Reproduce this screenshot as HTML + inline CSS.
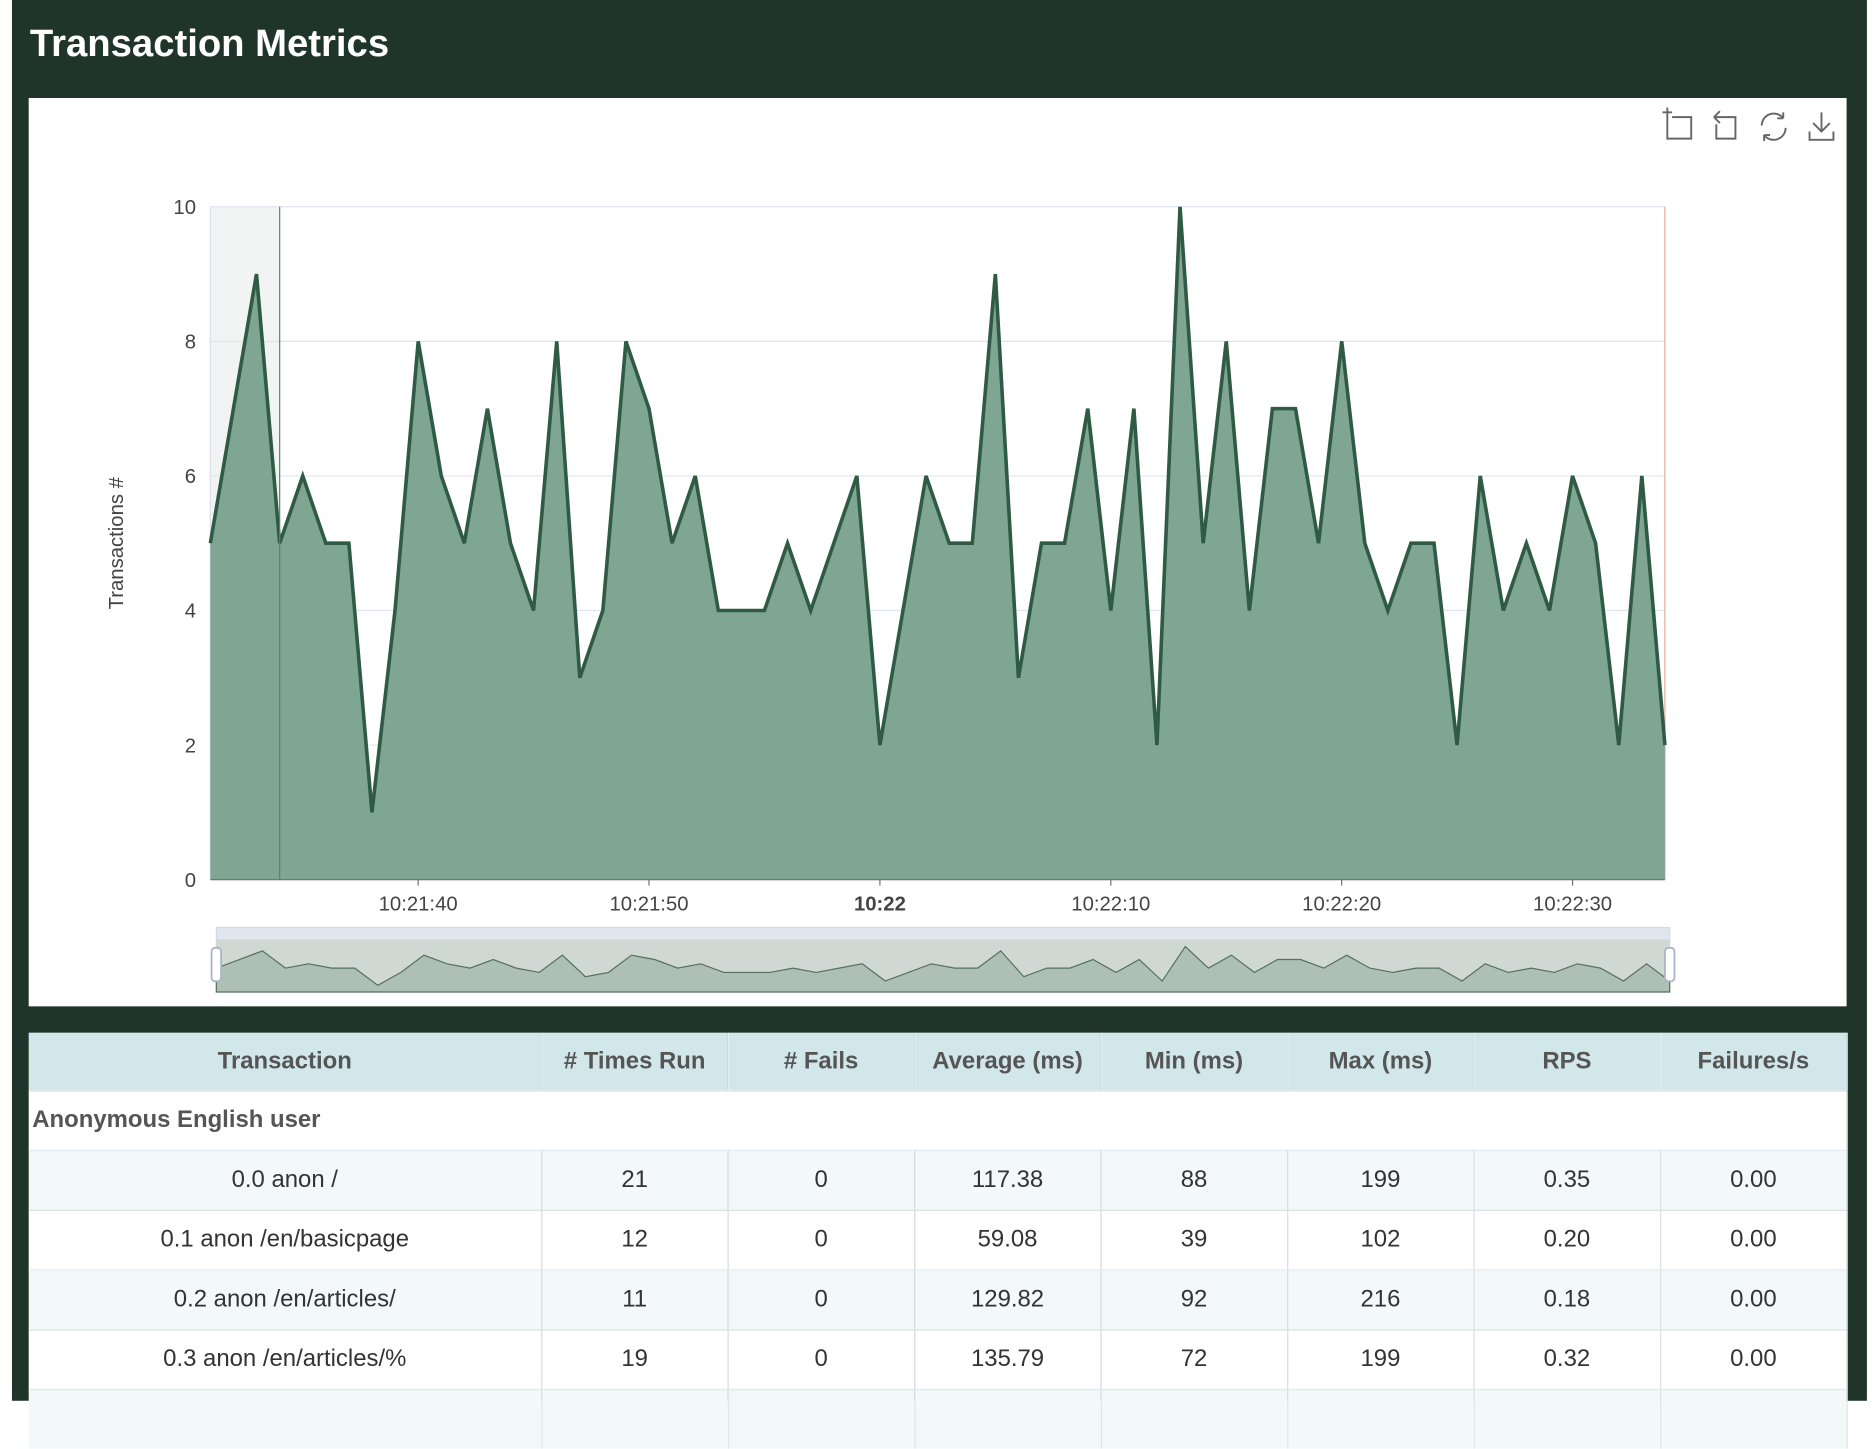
<!DOCTYPE html>
<html><head><meta charset="utf-8"><style>
html,body{margin:0;padding:0;background:#fff;width:1874px;height:1400px;overflow:hidden;font-family:"Liberation Sans",sans-serif}
#wrap{position:absolute;left:0;top:0;width:1568px;height:1172px;transform:scale(1.1952);transform-origin:0 0}
#bg{position:absolute;left:10px;top:0;width:1552px;height:1172px;background:#20352a}
#title{position:absolute;left:25px;top:18px;color:#fff;font-weight:bold;font-size:32px}
#panel{position:absolute;left:24px;top:82px;width:1521px;height:760px;background:#fff}
table{position:absolute;left:24px;top:864px;width:1521px;border-collapse:collapse;font-size:20px;color:#333;table-layout:fixed}
th{background:#d2e7ea;height:48px;padding:0;color:#555;font-weight:bold;border-right:1px solid #e4eef0}
td{height:49px;padding:0;text-align:center;border-right:1px solid #dde6ea;border-top:1px solid #e3eaee;background:#fff}
tr.alt td{background:#f3f8f9}
td.grp{text-align:left;font-weight:bold;color:#555;padding-left:3px;background:#fff}
</style></head><body>
<div id="wrap">
<div id="bg"></div>
<div id="title">Transaction Metrics</div>
<div id="panel">
<svg id="chart" width="1521" height="760" font-family="Liberation Sans, sans-serif"></svg>
</div>
<table>
<colgroup><col style="width:429px"><col span="7" style="width:156px"></colgroup>
<tr><th>Transaction</th><th># Times Run</th><th># Fails</th><th>Average (ms)</th><th>Min (ms)</th><th>Max (ms)</th><th>RPS</th><th>Failures/s</th></tr>
<tr><td class="grp" colspan="8">Anonymous English user</td></tr>
<tr class="alt"><td>0.0 anon /</td><td>21</td><td>0</td><td>117.38</td><td>88</td><td>199</td><td>0.35</td><td>0.00</td></tr>
<tr><td>0.1 anon /en/basicpage</td><td>12</td><td>0</td><td>59.08</td><td>39</td><td>102</td><td>0.20</td><td>0.00</td></tr>
<tr class="alt"><td>0.2 anon /en/articles/</td><td>11</td><td>0</td><td>129.82</td><td>92</td><td>216</td><td>0.18</td><td>0.00</td></tr>
<tr><td>0.3 anon /en/articles/%</td><td>19</td><td>0</td><td>135.79</td><td>72</td><td>199</td><td>0.32</td><td>0.00</td></tr>
<tr class="alt"><td></td><td></td><td></td><td></td><td></td><td></td><td></td><td></td></tr>
</table>
</div>
<script>
const values=[5,7,9,5,6,5,5,1,4,8,6,5,7,5,4,8,3,4,8,7,5,6,4,4,4,5,4,5,6,2,4,6,5,5,9,3,5,5,7,4,7,2,10,5,8,4,7,7,5,8,5,4,5,5,2,6,4,5,4,6,5,2,6,2];
const startSec=31; // 10:21:31
const yTicks=[0,2,4,6,8,10];
const xTickLabels=["10:21:40","10:21:50","10:22","10:22:10","10:22:20","10:22:30"];
const xTickSecs=[40,50,60,70,80,90];
const ox=24,oy=82;
const X0=176-ox,X1=1393-ox,Y0=736-oy,Y1=173-oy;
const n=values.length;
function xs(sec){return X0+(sec-startSec)*(X1-X0)/(n-1);}
function ys(v){return Y0+(Y1-Y0)*v/10;}
const svg=document.getElementById('chart');
const NS='http://www.w3.org/2000/svg';
function mk(t,a,p){const e=document.createElementNS(NS,t);for(const k in a)e.setAttribute(k,a[k]);(p||svg).appendChild(e);return e;}
let e;
e=mk('rect',{x:X0,y:Y1,width:58,height:Y0-Y1,fill:'#f2f4f3'});


yTicks.forEach(v=>{
 e=mk('line',{x1:X0,x2:X1,y1:ys(v),y2:ys(v),stroke:'#e0e3f3','stroke-width':1});
 
 
 e=mk('text',{x:X0-12,y:ys(v)+6,'text-anchor':'end','font-size':17,fill:'#444'});e.textContent=v;
 
 
});
e=mk('line',{x1:X0,x2:X0,y1:Y1,y2:Y0,stroke:'#dde',});
e=mk('line',{x1:X1,x2:X1,y1:Y1,y2:Y0,stroke:'#e0a8a0'});


let pts=values.map((v,i)=>xs(startSec+i).toFixed(1)+','+ys(v).toFixed(1));
e=mk('path',{d:'M'+X0+','+Y0+' L'+pts.join(' L')+' L'+X1+','+Y0+' Z',fill:'#7fa692'});


e=mk('polyline',{points:pts.join(' '),fill:'none',stroke:'#2f5a44','stroke-width':3,'stroke-linejoin':'miter'});


e=mk('line',{x1:234-ox,x2:234-ox,y1:Y1,y2:Y0,stroke:'#5e7f6e','stroke-width':1});
e=mk('line',{x1:X0,x2:X1,y1:Y0,y2:Y0,stroke:'#6e7079','stroke-width':1});


xTickLabels.forEach((l,i)=>{
 const x=xs(xTickSecs[i]);
 e=mk('line',{x1:x,x2:x,y1:Y0,y2:Y0+5,stroke:'#6e7079'});
 e=mk('text',{x:x,y:Y0+26,'text-anchor':'middle','font-size':17,fill:'#444','font-weight':l==='10:22'?'bold':'normal'});e.textContent=l;
 
 
});
e=mk('text',{x:0,y:0,transform:'translate('+(103-ox)+','+((Y0+Y1)/2)+') rotate(-90)','text-anchor':'middle','font-size':17,fill:'#444'});e.textContent='Transactions #';


// slider
const SX0=181-ox,SX1=1397-ox,SY0=776-oy,SY1=830-oy;
e=mk('rect',{x:SX0,y:SY0,width:SX1-SX0,height:SY1-SY0,fill:'#dfe6ee',stroke:'#d2dbe6'});


e=mk('rect',{x:SX0,y:SY0+10,width:SX1-SX0,height:SY1-SY0-10,fill:'#cfd8d3'});
function sx(i){return SX0+i*(SX1-SX0)/(n-1);}
function sy(v){return SY1-2-v*3.6;}
let sp=values.map((v,i)=>sx(i).toFixed(1)+','+sy(v).toFixed(1));
e=mk('path',{d:'M'+SX0+','+SY1+' L'+sp.join(' L')+' L'+SX1+','+SY1+' Z',fill:'#aebfb5',stroke:'#55705f','stroke-width':1});


[SX0,SX1].forEach(x=>{e=mk('rect',{x:x-4,y:SY0+17,width:8,height:28,rx:3,fill:'#fff',stroke:'#a9b4c8','stroke-width':1.5});
 
 });
// toolbox icons
const icons=[
 'M1381,96 v-8 M1377,92 h8 M1381,96 v18 h20 v-18 h-16',
 'M1420,96 l5,-5 M1420,96 l5,5 M1420,96 h18 v18 h-16 v-12',
 'M1460,103 a10,10 0 0 1 18,-6 M1478,97 l0,-5 M1478,97 l-5,0 M1480,105 a10,10 0 0 1 -18,6 M1462,111 l0,5 M1462,111 l5,0',
 'M1510,92 v16 M1503,101 l7,7 l7,-7 M1500,108 v7 h20 v-7'];
const iconNames=['zoom-icon','restore-zoom-icon','refresh-icon','download-icon'];
icons.forEach((d,i)=>{e=mk('path',{d:d,transform:'translate(-10,-80)',fill:'none',stroke:'#666','stroke-width':1.6});
 
 });
</script>
</body></html>
